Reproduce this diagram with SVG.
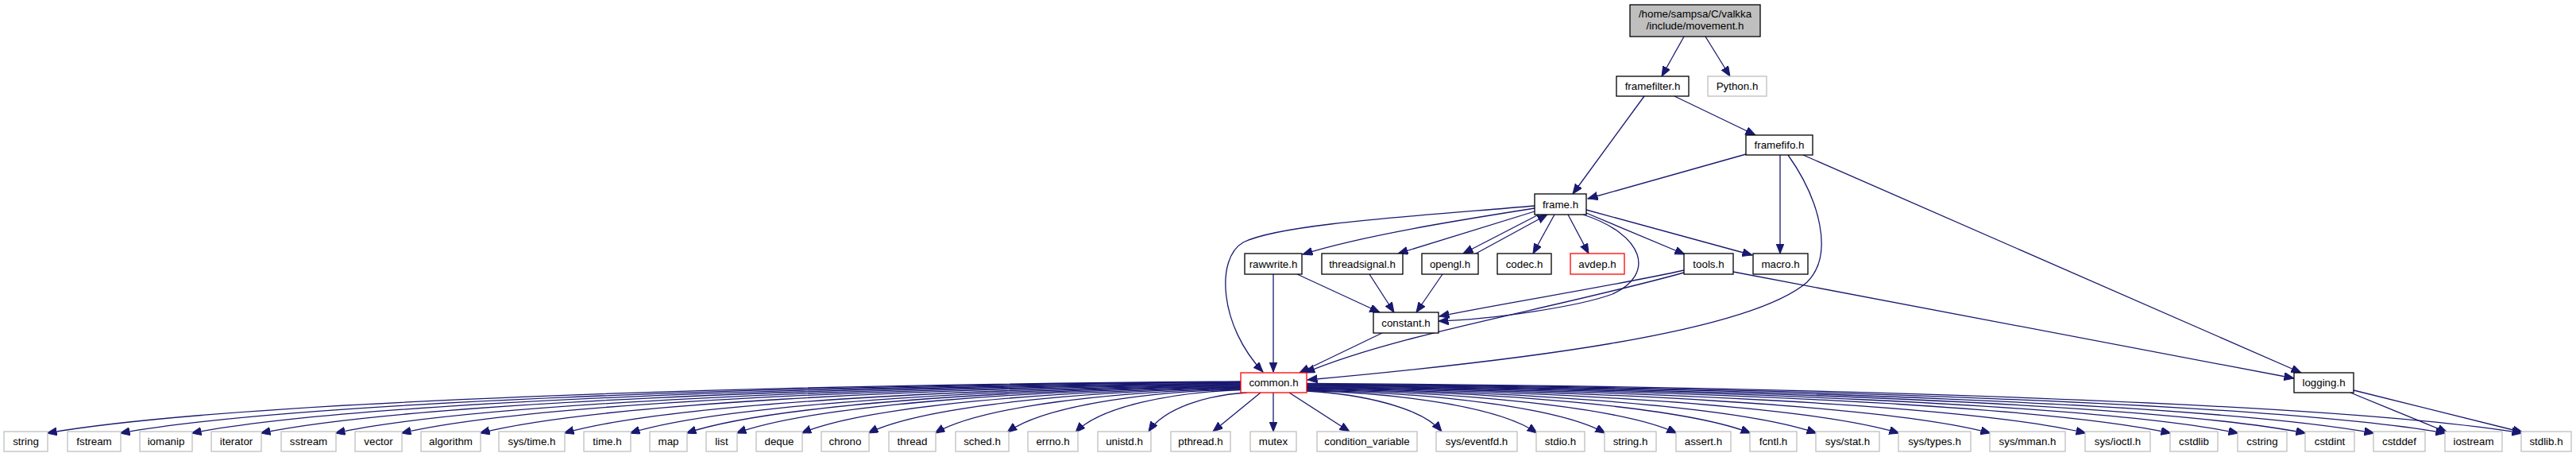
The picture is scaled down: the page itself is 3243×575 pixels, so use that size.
<svg xmlns="http://www.w3.org/2000/svg" width="3243" height="575" viewBox="0 0 3243 575">
<style>
rect{fill:#fff;stroke:#000;stroke-width:1.3}
.g rect{stroke:#bfbfbf}
.r rect{stroke:#f00}
.m rect{fill:#bfbfbf}
text{font-family:"Liberation Sans",Arial,sans-serif;font-size:13.33px;text-anchor:middle;fill:#000}
#edges path{fill:none;stroke:#191970;stroke-width:1.3;marker-end:url(#ah)}
</style>
<defs>
<marker id="ah" markerUnits="userSpaceOnUse" markerWidth="14" markerHeight="11" refX="12.5" refY="5" orient="auto">
<path d="M0,0 L12.5,5 L0,10 Z" fill="#191970" stroke="#191970" stroke-width="1"/>
</marker>
</defs>
<rect x="0" y="0" width="3243" height="575" style="fill:#fff;stroke:none"/>
<g id="edges">
<path d="M2120,46 L2092,96"/>
<path d="M2147,46 L2178,96"/>
<path d="M2070,121 L1980,244"/>
<path d="M2108,121 L2210,170"/>
<path d="M2198,194 L1999,250"/>
<path d="M2241,195 L2241,319"/>
<path d="M2251,195 C2290,250 2310,320 2275,355 C2200,420 1900,455 1646,478"/>
<path d="M2270,195 L2897,469"/>
<path d="M1932,262 C1850,275 1720,295 1640,320"/>
<path d="M1932,266 L1760,319"/>
<path d="M1937,270 L1842,319"/>
<path d="M1858,319 L1948,270"/>
<path d="M1957,270 L1930,319"/>
<path d="M1974,270 L2000,319"/>
<path d="M1997,268 L2121,320"/>
<path d="M1997,264 L2206,321"/>
<path d="M1932,259 C1780,272 1610,282 1565,305 C1530,325 1535,410 1590,468"/>
<path d="M1993,270 C2070,295 2085,345 2030,370 C1990,385 1880,402 1811,404"/>
<path d="M1603,345 L1603,468"/>
<path d="M1633,345 L1737,393"/>
<path d="M1724,345 L1755,393"/>
<path d="M1816,345 L1783,393"/>
<path d="M2120,340 C2030,360 1900,380 1812,398"/>
<path d="M2120,343 C1950,390 1760,420 1643,469"/>
<path d="M1740,419 L1636,469"/>
<path d="M2182,342 L2888,476"/>
<path d="M2959,494 L3081,544"/>
<path d="M2963,491 L3176,544"/>
<path d="M1562,480 C930,484 284,506 59,545"/>
<path d="M1562,480.7 C969,484.6 362,506.4 151,545"/>
<path d="M1562,481.4 C1007,485.2 438,506.8 241,545"/>
<path d="M1562,482.1 C1043,485.9 512,507.3 328,545"/>
<path d="M1562,482.8 C1083,486.5 592,507.7 422,545"/>
<path d="M1562,483.5 C1118,487.2 663,508.1 505,545"/>
<path d="M1562,484.2 C1159,487.8 747,508.5 604,545"/>
<path d="M1562,484.9 C1204,488.5 837,508.9 710,545"/>
<path d="M1562,485.6 C1239,489.2 907,509.4 793,545"/>
<path d="M1562,486.3 C1268,489.8 968,509.8 864,545"/>
<path d="M1562,487 C1295,490.5 1021,510.2 927,545"/>
<path d="M1562,487.7 C1329,491.1 1091,510.6 1009,545"/>
<path d="M1562,488.4 C1365,491.8 1162,511 1093,545"/>
<path d="M1562,489.1 C1400,492.5 1234,511.5 1177,545"/>
<path d="M1562,489.8 C1438,493 1312,511.5 1268,544"/>
<path d="M1562,490.5 C1474,493.7 1384,512 1354,544"/>
<path d="M1570,494 C1520,497 1466,513 1446,543"/>
<path d="M1587,494 L1527,543"/>
<path d="M1603,494 L1603,543"/>
<path d="M1623,494 L1699,543"/>
<path d="M1645,492 C1716,496 1790,513 1815,543"/>
<path d="M1645,491.5 C1766,494.7 1891,513 1935,545"/>
<path d="M1645,490.8 C1802,494 1964,512.5 2021,545"/>
<path d="M1645,490.1 C1840,493.4 2040,512 2111,545"/>
<path d="M1645,489.4 C1879,492.7 2119,511.6 2204,545"/>
<path d="M1645,488.7 C1914,492.1 2190,511.2 2287,545"/>
<path d="M1645,488 C1958,491.4 2278,510.8 2391,545"/>
<path d="M1645,487.3 C2006,490.8 2376,510.4 2506,545"/>
<path d="M1645,486.6 C2057,490.1 2478,510 2626,545"/>
<path d="M1645,485.9 C2102,489.4 2569,509.5 2733,545"/>
<path d="M1645,485.2 C2137,488.8 2641,509.1 2818,545"/>
<path d="M1645,484.5 C2173,488.1 2713,508.7 2903,545"/>
<path d="M1645,483.8 C2209,487.5 2786,508.3 2989,545"/>
<path d="M1645,483.1 C2248,486.8 2865,507.9 3079,545"/>
<path d="M1645,482.4 C2288,486.2 2946,507.4 3175,545"/>
</g>
<g id="movement" class="m"><rect x="2052" y="6" width="164" height="40"/><text x="2134" y="22">/home/sampsa/C/valkka</text><text x="2134" y="37">/include/movement.h</text></g>
<g id="framefilter"><rect x="2035" y="96" width="91" height="25"/><text x="2080.5" y="113">framefilter.h</text></g>
<g id="python" class="g"><rect x="2150" y="96" width="74" height="25"/><text x="2187" y="113">Python.h</text></g>
<g id="framefifo"><rect x="2198" y="170" width="84" height="25"/><text x="2240" y="187">framefifo.h</text></g>
<g id="frame"><rect x="1932" y="244" width="65" height="26"/><text x="1964.5" y="262">frame.h</text></g>
<g id="rawwrite"><rect x="1567" y="319" width="72" height="26"/><text x="1603" y="337">rawwrite.h</text></g>
<g id="threadsignal"><rect x="1664" y="319" width="102" height="26"/><text x="1715" y="337">threadsignal.h</text></g>
<g id="opengl"><rect x="1790" y="319" width="71" height="26"/><text x="1825.5" y="337">opengl.h</text></g>
<g id="codec"><rect x="1885" y="319" width="68" height="26"/><text x="1919" y="337">codec.h</text></g>
<g id="avdep" class="r"><rect x="1977" y="319" width="68" height="26"/><text x="2011" y="337">avdep.h</text></g>
<g id="tools"><rect x="2120" y="319" width="62" height="26"/><text x="2151" y="337">tools.h</text></g>
<g id="macro"><rect x="2207" y="319" width="69" height="26"/><text x="2241.5" y="337">macro.h</text></g>
<g id="constant"><rect x="1729" y="393" width="82" height="26"/><text x="1770" y="411">constant.h</text></g>
<g id="common" class="r"><rect x="1562" y="469" width="83" height="25"/><text x="1603.5" y="486">common.h</text></g>
<g id="logging"><rect x="2888" y="469" width="75" height="25"/><text x="2925.5" y="486">logging.h</text></g>
<g class="g">
<g id="n_string"><rect x="5" y="543" width="55" height="25"/><text x="32.5" y="560">string</text></g>
<g id="n_fstream"><rect x="85" y="543" width="67" height="25"/><text x="118.5" y="560">fstream</text></g>
<g id="n_iomanip"><rect x="176" y="543" width="66" height="25"/><text x="209" y="560">iomanip</text></g>
<g id="n_iterator"><rect x="266" y="543" width="63" height="25"/><text x="297.5" y="560">iterator</text></g>
<g id="n_sstream"><rect x="354" y="543" width="69" height="25"/><text x="388.5" y="560">sstream</text></g>
<g id="n_vector"><rect x="447" y="543" width="59" height="25"/><text x="476.5" y="560">vector</text></g>
<g id="n_algorithm"><rect x="530" y="543" width="75" height="25"/><text x="567.5" y="560">algorithm</text></g>
<g id="n_systime"><rect x="628" y="543" width="83" height="25"/><text x="669.5" y="560">sys/time.h</text></g>
<g id="n_time"><rect x="735" y="543" width="59" height="25"/><text x="764.5" y="560">time.h</text></g>
<g id="n_map"><rect x="818" y="543" width="47" height="25"/><text x="841.5" y="560">map</text></g>
<g id="n_list"><rect x="889" y="543" width="39" height="25"/><text x="908.5" y="560">list</text></g>
<g id="n_deque"><rect x="952" y="543" width="58" height="25"/><text x="981" y="560">deque</text></g>
<g id="n_chrono"><rect x="1034" y="543" width="60" height="25"/><text x="1064" y="560">chrono</text></g>
<g id="n_thread"><rect x="1119" y="543" width="59" height="25"/><text x="1148.5" y="560">thread</text></g>
<g id="n_sched"><rect x="1203" y="543" width="67" height="25"/><text x="1236.5" y="560">sched.h</text></g>
<g id="n_errno"><rect x="1294" y="543" width="63" height="25"/><text x="1325.5" y="560">errno.h</text></g>
<g id="n_unistd"><rect x="1382" y="543" width="67" height="25"/><text x="1415.5" y="560">unistd.h</text></g>
<g id="n_pthread"><rect x="1474" y="543" width="75" height="25"/><text x="1511.5" y="560">pthread.h</text></g>
<g id="n_mutex"><rect x="1574" y="543" width="58" height="25"/><text x="1603" y="560">mutex</text></g>
<g id="n_condvar"><rect x="1658" y="543" width="126" height="25"/><text x="1721" y="560">condition_variable</text></g>
<g id="n_eventfd"><rect x="1808" y="543" width="102" height="25"/><text x="1859" y="560">sys/eventfd.h</text></g>
<g id="n_stdio"><rect x="1934" y="543" width="61" height="25"/><text x="1964.5" y="560">stdio.h</text></g>
<g id="n_stringh"><rect x="2020" y="543" width="65" height="25"/><text x="2052.5" y="560">string.h</text></g>
<g id="n_assert"><rect x="2110" y="543" width="69" height="25"/><text x="2144.5" y="560">assert.h</text></g>
<g id="n_fcntl"><rect x="2203" y="543" width="59" height="25"/><text x="2232.5" y="560">fcntl.h</text></g>
<g id="n_sysstat"><rect x="2286" y="543" width="80" height="25"/><text x="2326" y="560">sys/stat.h</text></g>
<g id="n_systypes"><rect x="2390" y="543" width="91" height="25"/><text x="2435.5" y="560">sys/types.h</text></g>
<g id="n_sysmman"><rect x="2505" y="543" width="95" height="25"/><text x="2552.5" y="560">sys/mman.h</text></g>
<g id="n_sysioctl"><rect x="2625" y="543" width="82" height="25"/><text x="2666" y="560">sys/ioctl.h</text></g>
<g id="n_cstdlib"><rect x="2732" y="543" width="60" height="25"/><text x="2762" y="560">cstdlib</text></g>
<g id="n_cstring"><rect x="2817" y="543" width="62" height="25"/><text x="2848" y="560">cstring</text></g>
<g id="n_cstdint"><rect x="2902" y="543" width="62" height="25"/><text x="2933" y="560">cstdint</text></g>
<g id="n_cstddef"><rect x="2988" y="543" width="65" height="25"/><text x="3020.5" y="560">cstddef</text></g>
<g id="n_iostream"><rect x="3078" y="543" width="72" height="25"/><text x="3114" y="560">iostream</text></g>
<g id="n_stdlib"><rect x="3174" y="543" width="63" height="25"/><text x="3205.5" y="560">stdlib.h</text></g>
</g>
</svg>
